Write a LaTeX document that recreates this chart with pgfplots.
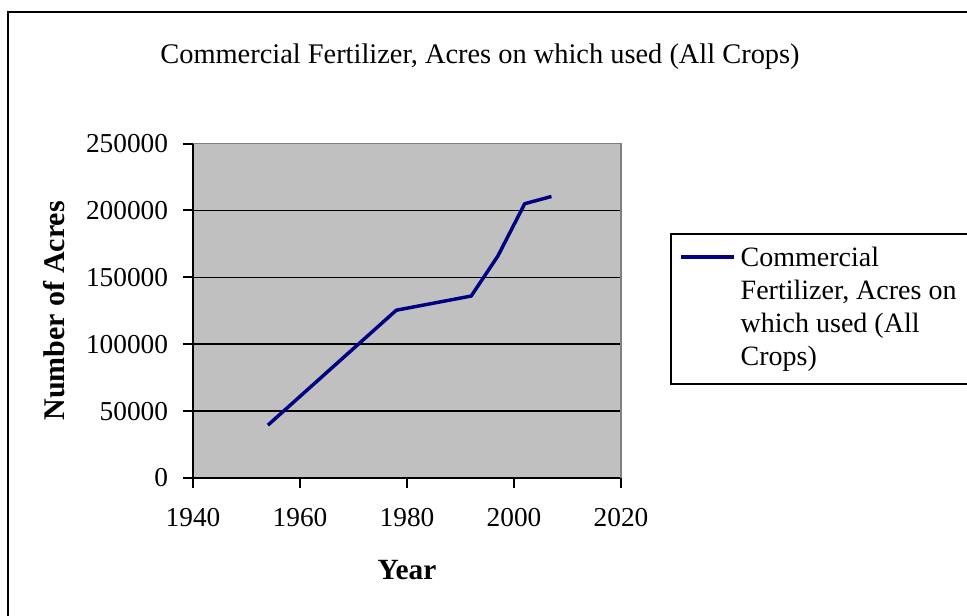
\documentclass[border=0pt]{standalone}
\usepackage{fontspec}
\setmainfont{Liberation Serif}
\usepackage{pgfplots}
\pgfplotsset{compat=1.18}
\definecolor{plotbg}{HTML}{C0C0C0}
\definecolor{navyline}{HTML}{000080}
\definecolor{frameg}{HTML}{808080}
\begin{document}
\begin{tikzpicture}
\useasboundingbox (0pt,0pt) rectangle (725.25pt,461.25pt);
\draw[line width=1.5pt] (6.2pt,-5pt) -- (6.2pt,452.25pt) -- (740pt,452.25pt);
\begin{axis}[
  at={(144.75pt,102.75pt)}, anchor=south west,
  scale only axis, width=321pt, height=250.875pt,
  xmin=1940, xmax=2020, ymin=0, ymax=250000,
  xtick={1940,1960,...,2020}, ytick={0,50000,...,250000},
  scaled y ticks=false, scaled x ticks=false,
  /pgf/number format/.cd, 1000 sep={}, fixed, assume math mode=true, /pgfplots/.cd,
  axis x line*=bottom, axis y line*=left,
  axis line style={line width=1.5pt, black},
  tick align=outside, major tick length=7.5pt,
  tick style={black, line width=1.5pt},
  axis background/.style={fill=plotbg},
  ymajorgrids, grid style={black, line width=1.1pt},
  ticklabel style={font=\fontsize{20.5}{24}\selectfont, inner sep=0pt},
  yticklabel style={anchor=east, xshift=-11pt},
  xticklabel style={anchor=base, yshift=-28.5pt},
  title={Commercial Fertilizer, Acres on which used (All Crops)},
  title style={at={(axis description cs:0.6706,1.214)}, anchor=base, font=\fontsize{21.3}{25}\selectfont, inner sep=0pt},
  xlabel={\textbf{Year}},
  xlabel style={at={(axis description cs:0.5,-0.3049)}, anchor=base, font=\fontsize{22}{26}\selectfont, inner sep=0pt},
  ylabel={\textbf{Number of Acres}},
  ylabel style={at={(axis description cs:-0.3248,0.5)}, anchor=center, font=\fontsize{22.5}{26}\selectfont, inner sep=0pt},
  legend style={at={(axis description cs:1.1145,0.7324)}, anchor=north west,
    draw=black, line width=1.5pt, fill=white, inner xsep=6pt, inner ysep=0pt,
    nodes={inner sep=0pt}, column sep=0pt, cells={anchor=base west}},
  legend image code/.code={\path[draw=none] (0pt,-14.5pt) rectangle (45pt,98.25pt); \draw[#1] (0pt,81pt) -- (39.75pt,81pt);},
  after end axis/.code={\draw[frameg, line width=1.1pt] (rel axis cs:0,1) -- (rel axis cs:1,1) -- (rel axis cs:1,0);},
]
\addplot[navyline, line width=2.6pt, line join=round] coordinates {
  (1954,39500) (1978,125400) (1992,136000) (1997,166000) (2002,205000) (2007,210400)
};
\addlegendentry{\parbox[b]{300pt}{\fontsize{21}{24.75}\selectfont Commercial\\Fertilizer, Acres on\\which used (All\\Crops)}}
\end{axis}
\end{tikzpicture}
\end{document}
